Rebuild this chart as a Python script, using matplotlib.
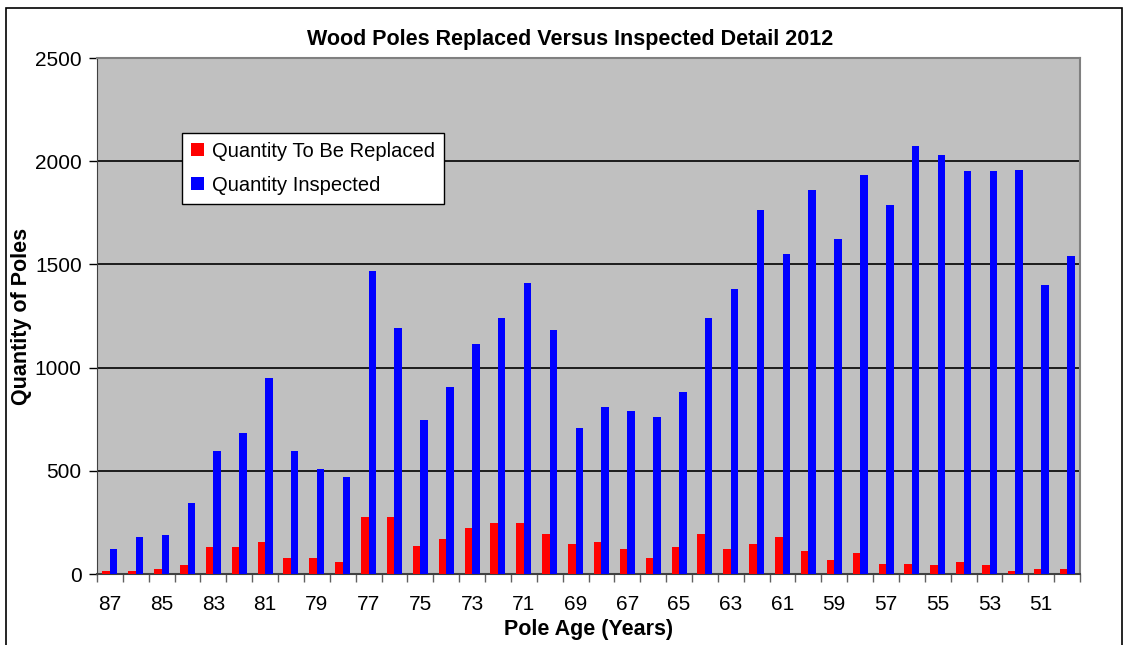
import matplotlib
matplotlib.use("Agg")
import matplotlib.pyplot as plt
import numpy as np
from matplotlib.patches import Rectangle

plt.rcParams["font.family"] = ["Liberation Sans", "DejaVu Sans"]

# Datos
edades = list(range(87, 49, -1))
reemplazar = [15, 15, 25, 45, 130, 130, 155, 80, 80, 60,
              275, 275, 135, 170, 225, 245, 245, 195, 145, 155,
              120, 80, 130, 195, 120, 145, 180, 110, 70, 100,
              50, 50, 45, 60, 45, 15, 25, 25]
inspeccionados = [120, 180, 190, 345, 595, 685, 950, 595, 510, 470,
                  1470, 1190, 745, 905, 1115, 1240, 1410, 1180, 710, 810,
                  790, 760, 880, 1240, 1380, 1765, 1550, 1860, 1625, 1935,
                  1790, 2075, 2030, 1955, 1955, 1960, 1400, 1540]

fig = plt.figure(figsize=(11.3, 6.45), dpi=100)
ax = fig.add_axes([0.0858, 0.110, 0.870, 0.800])

x = np.arange(len(edades))
ancho = 0.29
ax.bar(x - ancho / 2, reemplazar, ancho, color="#FF0000", label="Quantity To Be Replaced", zorder=3)
ax.bar(x + ancho / 2, inspeccionados, ancho, color="#0000FF", label="Quantity Inspected", zorder=3)

ax.set_facecolor("#C0C0C0")
ax.set_xlim(-0.5, len(edades) - 0.5)
ax.set_ylim(0, 2500)
ax.set_yticks(range(0, 2501, 500))
ax.yaxis.grid(True, color="black", linewidth=1.2, zorder=1)

# Ticks en los limites de categoria, etiquetas cada dos
ax.set_xticks(np.arange(len(edades) + 1) - 0.5)
ax.set_xticklabels([])
ax.set_xticks(x[::2], minor=True)
ax.set_xticklabels([str(e) for e in edades[::2]], minor=True)
ax.tick_params(axis="x", which="major", length=6, width=1, color="#606060", direction="out")
ax.tick_params(axis="x", which="minor", length=0, labelsize=15, pad=15)
ax.tick_params(axis="y", length=6, width=1, direction="out", labelsize=15, pad=5)

for lado in ["top", "right"]:
    ax.spines[lado].set_color("#808080")
    ax.spines[lado].set_linewidth(1.5)
ax.spines["left"].set_color("#404040")
ax.spines["bottom"].set_color("#404040")
ax.spines["bottom"].set_linewidth(1.5)

fig.text(570 / 1130, 1 - 40 / 645, "Wood Poles Replaced Versus Inspected Detail 2012",
         fontsize=15.5, fontweight="bold", ha="center", va="center")
ax.set_xlabel("Pole Age (Years)", fontsize=15.5, fontweight="bold", labelpad=4)
ax.set_ylabel("Quantity of Poles", fontsize=15.5, fontweight="bold")
ax.yaxis.set_label_coords(-0.066, 0.5)

leg = ax.legend(loc="upper left", bbox_to_anchor=(0.0865, 0.855), borderaxespad=0, fontsize=14.5,
                frameon=True, fancybox=False, edgecolor="black", framealpha=1,
                handlelength=0.62, handleheight=0.62, handletextpad=0.4, labelspacing=0.75,
                borderpad=0.45)
leg.get_frame().set_linewidth(1)

# Marco exterior
fig.patches.append(Rectangle((0.005, -0.1), 0.988, 1.088, transform=fig.transFigure,
                             fill=False, edgecolor="black", linewidth=1.2))

fig.savefig("out.png", dpi=100)
